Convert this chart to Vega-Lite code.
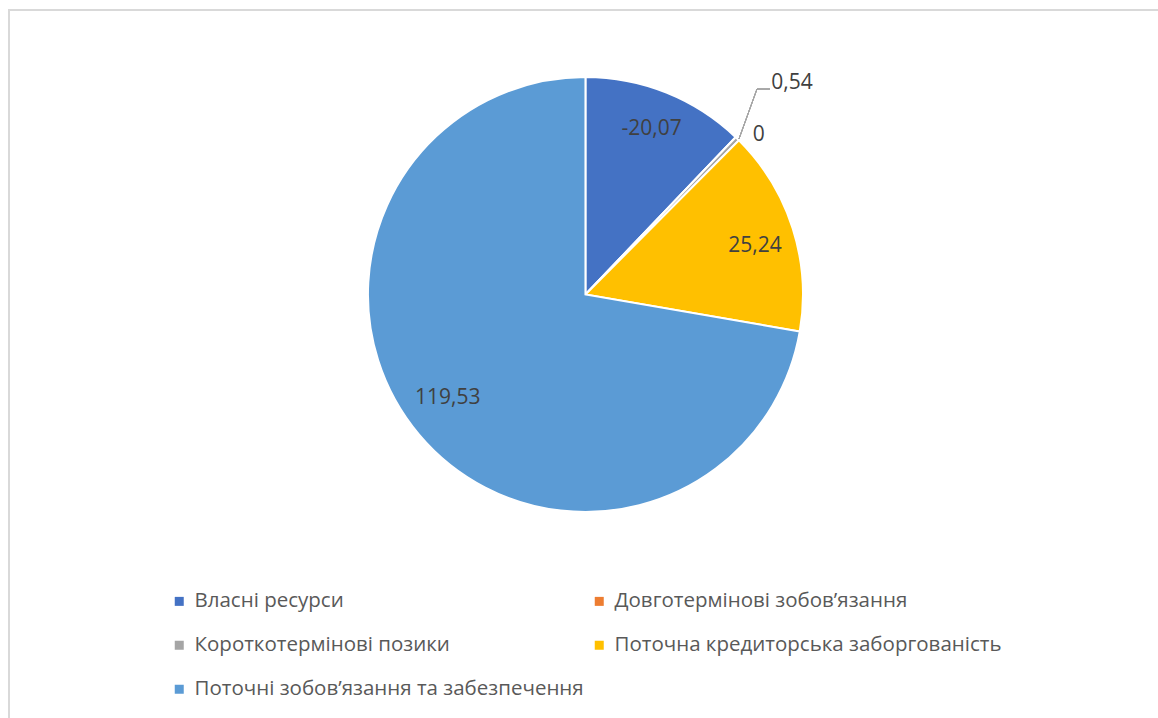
{
  "$schema": "https://vega.github.io/schema/vega-lite/v6.json",
  "width": 1149,
  "height": 708,
  "autosize": {"type": "none"},
  "padding": {"left": 9, "top": 10, "right": 0, "bottom": 0},
  "background": "white",
  "data": {"values": [
    {"n": 1, "cat": "Власні ресурси", "value": -20.07, "share": 20.07},
    {"n": 2, "cat": "Довготермінові зобов’язання", "value": 0, "share": 0},
    {"n": 3, "cat": "Короткотермінові позики", "value": 0.54, "share": 0.54},
    {"n": 4, "cat": "Поточна кредиторська заборгованість", "value": 25.24, "share": 25.24},
    {"n": 5, "cat": "Поточні зобов’язання та забезпечення", "value": 119.53, "share": 119.53}
  ]},
  "encoding": {
    "theta": {"field": "share", "type": "quantitative", "stack": true},
    "order": {"field": "n", "type": "quantitative"},
    "x": {"datum": 0.5017, "type": "quantitative", "scale": {"domain": [0, 1], "nice": false, "zero": false}, "axis": null},
    "y": {"datum": 0.5982, "type": "quantitative", "scale": {"domain": [0, 1], "nice": false, "zero": false}, "axis": null}
  },
  "layer": [
    {
      "mark": {"type": "arc", "outerRadius": 217.5, "stroke": "white", "strokeWidth": 2},
      "encoding": {
        "color": {
          "field": "cat", "type": "nominal",
          "scale": {
            "domain": ["Власні ресурси", "Довготермінові зобов’язання", "Короткотермінові позики", "Поточна кредиторська заборгованість", "Поточні зобов’язання та забезпечення"],
            "range": ["#4472C4", "#ED7D31", "#A5A5A5", "#FFC000", "#5B9BD5"]
          },
          "legend": {
            "title": null,
            "orient": "none",
            "direction": "horizontal",
            "legendX": 160,
            "legendY": 581,
            "columns": 2,
            "columnPadding": 5,
            "rowPadding": 23,
            "symbolType": "square",
            "symbolSize": 81,
            "symbolStrokeWidth": 0,
            "labelFont": "Open Sans",
            "labelFontSize": 20.5,
            "labelColor": "#595959",
            "labelOffset": 5,
            "labelLimit": 600,
            "padding": 0
          }
        }
      }
    },
    {
      "mark": {"type": "text", "radius": 178, "font": "Open Sans", "fontSize": 21, "fill": "#404040", "align": "center", "baseline": "middle"},
      "encoding": {
        "detail": {"field": "cat", "type": "nominal"},
        "text": {"condition": {"test": "datum.share > 1 && datum.share < 22", "field": "value", "type": "quantitative", "format": "~f"}, "value": ""}
      }
    },
    {
      "mark": {"type": "text", "radius": 178, "dy": 6, "font": "Open Sans", "fontSize": 21, "fill": "#404040", "align": "center", "baseline": "middle"},
      "encoding": {
        "detail": {"field": "cat", "type": "nominal"},
        "text": {"condition": {"test": "datum.share > 22 && datum.share < 100", "field": "value", "type": "quantitative", "format": "~f"}, "value": ""}
      }
    },
    {
      "mark": {"type": "text", "radius": 167, "dx": -10, "dy": -4, "font": "Open Sans", "fontSize": 21, "fill": "#404040", "align": "center", "baseline": "middle"},
      "encoding": {
        "detail": {"field": "cat", "type": "nominal"},
        "text": {"condition": {"test": "datum.share > 100", "field": "value", "type": "quantitative", "format": "~f"}, "value": ""}
      }
    },
    {
      "mark": {"type": "text", "radius": 235, "dx": 11, "dy": 10, "font": "Open Sans", "fontSize": 21, "fill": "#404040", "align": "center", "baseline": "middle"},
      "encoding": {
        "detail": {"field": "cat", "type": "nominal"},
        "text": {"condition": {"test": "datum.share == 0", "field": "value", "type": "quantitative", "format": "~f"}, "value": ""}
      }
    },
    {
      "mark": {"type": "text", "radius": 296, "font": "Open Sans", "fontSize": 21, "fill": "#404040", "align": "center", "baseline": "middle"},
      "encoding": {
        "detail": {"field": "cat", "type": "nominal"},
        "text": {"condition": {"test": "datum.share > 0 && datum.share < 1", "field": "value", "type": "quantitative", "format": "~f"}, "value": ""}
      }
    },
    {
      "mark": {"type": "rule", "stroke": "#A6A6A6", "strokeWidth": 1},
      "encoding": {
        "theta": null,
        "order": null,
        "x": {"datum": 0.6353, "type": "quantitative"},
        "y": {"datum": 0.8178, "type": "quantitative"},
        "x2": {"datum": 0.6510},
        "y2": {"datum": 0.8884}
      }
    },
    {
      "mark": {"type": "rule", "stroke": "#A6A6A6", "strokeWidth": 1},
      "encoding": {
        "theta": null,
        "order": null,
        "x": {"datum": 0.6510, "type": "quantitative"},
        "y": {"datum": 0.8884, "type": "quantitative"},
        "x2": {"datum": 0.6623},
        "y2": {"datum": 0.8884}
      }
    }
  ],
  "config": {
    "locale": {"number": {"decimal": ",", "thousands": " ", "grouping": [3], "currency": ["", ""], "minus": "-"}},
    "view": {"stroke": "#D9D9D9", "strokeWidth": 2, "strokeDash": [1149, 1857, 708]}
  }
}
